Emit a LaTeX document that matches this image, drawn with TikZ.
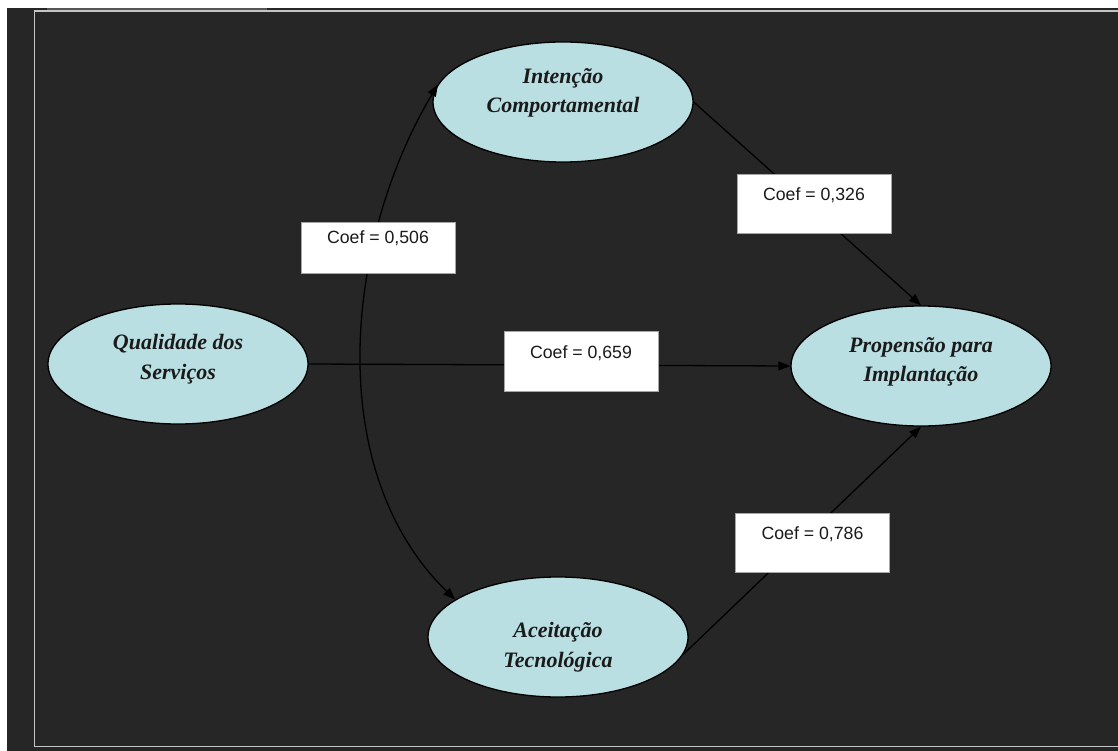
\documentclass[tikz,border=0pt]{standalone}
\usepackage{fontspec}
\setmainfont{Liberation Serif}
\newfontfamily\arialf{Liberation Sans}
\usetikzlibrary{arrows.meta,shapes.geometric}
\definecolor{bg}{HTML}{262626}
\definecolor{topstrip}{HTML}{555555}
\definecolor{framecol}{HTML}{C4C4C4}
\definecolor{ellfill}{HTML}{B9DFE3}
\definecolor{txt}{HTML}{1A1A1A}
\definecolor{boxgray}{HTML}{A6A6A6}
\begin{document}
\begin{tikzpicture}[x=1pt,y=-1pt,
  ell/.style={ellipse, draw=black, line width=1.3pt, fill=ellfill,
    minimum width=260pt, minimum height=120pt, inner sep=0pt},
  elltext/.style={align=center, inner sep=0pt, text=txt,
    font=\fontsize{22}{29.5}\selectfont\bfseries\itshape},
  conn/.style={draw=black, line width=1.3pt, -{Triangle[length=12pt,width=9pt]}},
  dconn/.style={draw=black, line width=1.3pt, {Triangle[length=12pt,width=9pt]}-{Triangle[length=12pt,width=9pt]}},
  coef/.style={draw=boxgray, fill=white, line width=0.8pt, minimum width=154pt,
    inner xsep=0pt, inner ysep=0pt, text=txt,
    font=\arialf\fontsize{17.7}{20}\selectfont, text height=26.4pt, text depth=33pt}
]
\useasboundingbox (0,0) rectangle (1118,751);
\fill[white] (0,0) rectangle (1118,751);
\fill[bg] (7,8) rectangle (1118,751);
\fill[topstrip] (47,8) rectangle (267,10);
\draw[framecol, line width=1.4pt] (1120,11) -- (34.5,11) -- (34.5,746.5) -- (1120,746.5);

% ellipses
\node[ell] (qual) at (178,364) {};
\node[ell] (int) at (563,102) {};
\node[ell] (prop) at (921,366) {};
\node[ell] (ace) at (558,637) {};

\node[elltext] (qualt) at (178,359) {Qualidade dos\\Serviços};
\node[elltext] (intt) at (563,93) {Intenção\\Comportamental};
\node[elltext] (propt) at (921,362) {Propensão para\\Implantação};
\node[elltext] (acet) at (558,647) {Aceitação\\Tecnológica};

% connectors
\draw[conn] (qual.east) -- (prop.west);
\draw[conn] (int.east) -- (prop.north);
\draw[conn] (ace.-8) -- (prop.south);
\draw[dconn] (int.172) .. controls (345,240) and (322,470) .. (ace.160);

% coefficient boxes
\node[coef] (c506) at (378,247.5) [text height=21.4pt, text depth=29.6pt] {Coef = 0,506};
\node[coef] (c326) at (814,204) {Coef = 0,326};
\node[coef] (c659) at (581,361.5) {Coef = 0,659};
\node[coef] (c786) at (812.5,542.5) [text depth=32.6pt] {Coef = 0,786};
\end{tikzpicture}
\end{document}
